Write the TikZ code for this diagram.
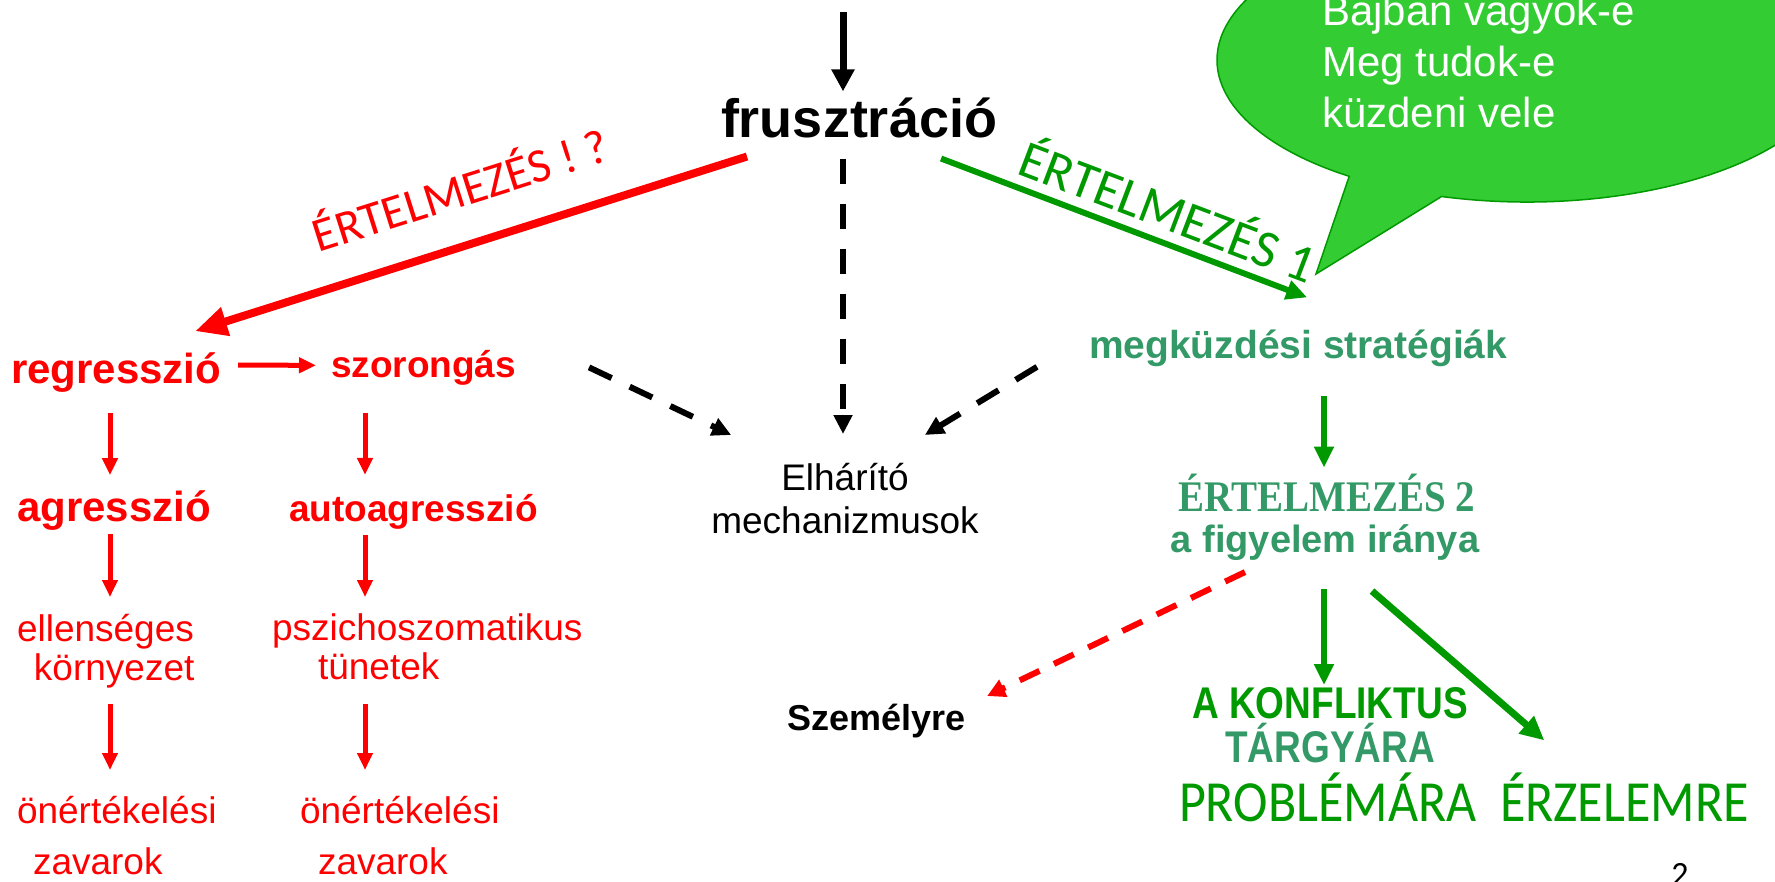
\documentclass[tikz,border=0pt]{standalone}
\usepackage{fontspec}
\setmainfont{Liberation Sans}
\newfontfamily\calfont{Carlito}
\newfontfamily\serfont{Liberation Serif}
\usetikzlibrary{arrows.meta}
\definecolor{hred}{RGB}{255,0,0}
\definecolor{hgreen}{RGB}{0,153,0}
\definecolor{hteal}{RGB}{51,153,102}
\definecolor{bubblegreen}{RGB}{51,204,51}
\newcommand{\setsz}[2]{\fontsize{#1}{#2}\selectfont}
\newcommand{\tall}[2]{\scalebox{1}[#1]{#2}}
\tikzset{
	lbl/.style={inner sep=0pt, outer sep=0pt, anchor=base west},
	lines/.style={inner sep=0pt, outer sep=0pt, anchor=north west, align=left},
	blackarrow/.style={line width=7pt, -{Triangle[length=22pt,width=22pt]}},
	blackdash/.style={line width=6pt, dash pattern=on 25pt off 20pt, -{Triangle[length=19pt,width=18pt]}},
	redarrow/.style={hred, line width=5pt, -{Triangle[length=17pt,width=15pt]}},
	bigred/.style={hred, line width=8pt, -{Triangle[length=32pt,width=28pt]}},
	greenarrow/.style={hgreen, line width=6pt, -{Triangle[length=21pt,width=19pt]}},
	reddash/.style={hred, line width=6pt, dash pattern=on 22pt off 16pt, -{Triangle[length=18pt,width=18pt]}},
	bubble/.style={fill=bubblegreen, draw=hgreen, line width=1.5pt}
}
\begin{document}
\begin{tikzpicture}[x=1pt,y=-1pt]
		\useasboundingbox (0,0) rectangle (1775,881);
		\clip (0,0) rectangle (1775,881);
		
		\coordinate (bubc) at (1527,60);
		\coordinate (bubtip) at (1316,274);
		\draw[bubble] (bubtip) -- ([shift={(254:310pt and 142pt)}]bubc) arc[start angle=254, end angle=595, x radius=310pt, y radius=142pt] -- cycle;
		\node[lines, text=white, font=\setsz{42}{51}] (bubtxt) at (1322,-5) {Bajban vagyok-e\\Meg tudok-e\\küzdeni vele};
		
		\coordinate (src) at (843,12);
		\coordinate (colA) at (110,0);
		\coordinate (colB) at (365,0);
		\coordinate (colC) at (1324,0);
		
		\node[lbl, font=\bfseries\setsz{54}{60}] (frus) at (721,137) {frusztráció};
		
		\node[lbl, hred, font=\bfseries\setsz{42}{48}] (regr) at (11,383) {regresszió};
		\node[lbl, hred, font=\bfseries\setsz{37}{42}] (szor) at (331,377) {szorongás};
		\node[lbl, hred, font=\bfseries\setsz{42}{48}] (agr) at (17,521) {agresszió};
		\node[lbl, hred, font=\bfseries\setsz{37}{42}] (autoagr) at (289,521) {autoagresszió};
		\node[lines, hred, font=\setsz{37}{39}] (ellen) at (17,614) {ellenséges\\\hspace*{17pt}környezet};
		\node[lines, hred, font=\setsz{37}{39}] (psz) at (272,614) {pszichoszomatikus\\\hspace*{46pt}tünetek};
		\node[lines, hred, font=\setsz{37}{51}] (oner1) at (17,796) {önértékelési\\\hspace*{16pt}zavarok};
		\node[lines, hred, font=\setsz{37}{51}] (oner2) at (300,796) {önértékelési\\\hspace*{18pt}zavarok};
		
		\node[inner sep=0pt, anchor=north, align=center, font=\setsz{37}{43}] (elh) at (845,463) {Elhárító\\mechanizmusok};
		\node[lbl, font=\bfseries\setsz{36}{42}] (szem) at (787,730) {Személyre};
		
		\node[lbl, hteal, font=\bfseries\setsz{39}{45}] (megk) at (1089,358) {megküzdési stratégiák};
		\node[lbl, anchor=base, hteal, font=\serfont\bfseries\setsz{39}{45}] (ert2) at (1327,511) {\tall{1.12}{ÉRTELMEZÉS 2}};
		\node[lbl, anchor=base, hteal, font=\bfseries\setsz{38}{44}] (figy) at (1325,552) {a figyelem iránya};
		\node[inner sep=0pt, anchor=north, align=center, font=\bfseries\setsz{37}{44}] (konf) at (1330,687) {\textcolor{hgreen}{\tall{1.2}{A KONFLIKTUS}}\\\textcolor{hteal}{\tall{1.2}{TÁRGYÁRA}}};
		\node[lbl, hgreen, font=\calfont\setsz{52}{58}] (probl) at (1179,821) {\tall{1.12}{PROBLÉMÁRA}};
		\node[lbl, hgreen, font=\calfont\setsz{52}{58}] (erz) at (1500,821) {\tall{1.12}{ÉRZELEMRE}};
		\node[inner sep=0pt, anchor=north, font=\calfont\setsz{34}{40}] (pgnum) at (1680,863) {2};
		
		\draw[blackarrow, shorten >=6pt] (src) -- (src |- frus.north);
		\draw[blackdash, shorten <=21pt, shorten >=29pt] (src |- frus.south) -- (src |- elh.north);
		\draw[blackdash] ([xshift=73pt]szor.east) -- ([shift={(20pt,28pt)}]elh.north west);
		\draw[blackdash] ([shift={(-52pt,-19pt)}]megk.west) -- ([shift={(-54pt,28pt)}]elh.north east);
		
		\draw[bigred] ([shift={(26pt,-19pt)}]frus.south west) -- ([shift={(-26pt,21pt)}]regr.north east)
			node[sloped, above=30pt, pos=0.49, hred, font=\calfont\setsz{48}{52}] (lblred) {ÉRTELMEZÉS ! ?};
		\draw[greenarrow] ([shift={(-56pt,-21pt)}]frus.south east) -- ([shift={(9pt,32pt)}]megk.north)
			node[sloped, above=6pt, pos=0.59, hgreen, font=\calfont\setsz{53}{58}] (lblgreen) {ÉRTELMEZÉS 1};
		
		\draw[redarrow] ([shift={(17pt,7pt)}]regr.east) -- ([shift={(-15pt,2pt)}]szor.west);
		\draw[redarrow, shorten <=21pt, shorten >=15pt] (regr.south -| colA) -- (agr.north -| colA);
		\draw[redarrow, shorten <=28pt, shorten >=19pt] (szor.south -| colB) -- (autoagr.north -| colB);
		\draw[redarrow, shorten <=4pt, shorten >=17pt] (agr.south -| colA) -- (ellen.north -| colA);
		\draw[redarrow, shorten <=6pt, shorten >=17pt] (autoagr.south -| colB) -- (psz.north -| colB);
		\draw[redarrow, shorten <=16pt, shorten >=26pt] (ellen.south -| colA) -- (oner1.north -| colA);
		\draw[redarrow, shorten <=24pt, shorten >=26pt] (psz.south -| colB) -- (oner2.north -| colB);
		
		\draw[greenarrow, shorten <=30pt, shorten >=6pt] (megk.south -| colC) -- (ert2.north -| colC);
		\draw[greenarrow, shorten <=29pt, shorten >=2pt] (figy.south -| colC) -- (konf.north -| colC);
		\draw[greenarrow, line width=7pt, -{Triangle[length=24pt,width=22pt]}] ([shift={(47pt,-31pt)}]figy.south) -- ([shift={(-80pt,32pt)}]erz.north);
		\draw[reddash] ([shift={(-80pt,-12pt)}]figy.south) -- ([shift={(22pt,24.5pt)}]szem.east);
		\end{tikzpicture}
\end{document}
